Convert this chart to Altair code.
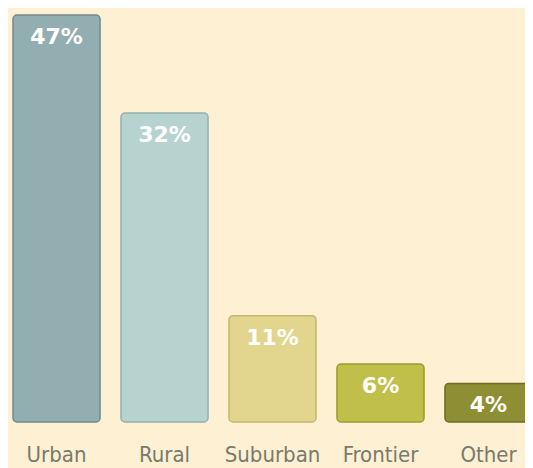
import altair as alt
import pandas as pd

categories = ["Urban", "Rural", "Suburban", "Frontier", "Other"]
values = [47, 32, 11, 6, 4]
labels = ["47%", "32%", "11%", "6%", "4%"]
colors = ["#93aeb0", "#b7d3d0", "#e2d68e", "#bfbf4a", "#8e8e34"]
strokes = ["#6f8a8c", "#93b0ad", "#c3b670", "#9a9a30", "#6c6c22"]

df = pd.DataFrame({"cat": categories, "val": values, "lab": labels})

x = alt.X("cat:N", sort=categories,
          scale=alt.Scale(range=[5, 524], paddingInner=0.194, paddingOuter=0),
          axis=alt.Axis(title=None, domain=False, ticks=False, labelAngle=0,
                        labelFontSize=22, labelColor="#7a7a6c",
                        labelFont="Liberation Sans Narrow, DejaVu Sans Condensed",
                        labelPadding=22, labelBaseline="top"))
yscale = alt.Scale(domain=[0, 32, 47], range=[414, 105, 7])
y = alt.Y("val:Q", scale=yscale, axis=None)

base = alt.Chart(df)

bars = base.mark_bar(cornerRadius=4, strokeWidth=1.5).encode(
    x=x, y=y, y2=alt.datum(0),
    color=alt.Color("cat:N", sort=categories,
                    scale=alt.Scale(domain=categories, range=colors), legend=None),
    stroke=alt.Stroke("cat:N", sort=categories,
                      scale=alt.Scale(domain=categories, range=strokes), legend=None),
)

text = base.mark_text(color="white", fontSize=22, fontWeight="bold",
                      font="DejaVu Sans", baseline="middle", dy=22).encode(
    x=x, y=y, text="lab:N")

chart = alt.layer(bars, text).properties(
    width=517, height=414,
    padding={"left": 0, "top": 0, "right": 0, "bottom": 46},
    autosize=alt.AutoSizeParams(type="none"),
    background="#fdf0d3",
).configure_view(stroke=None)

chart.save("out.html", embed_options={"renderer": "svg", "actions": False})
